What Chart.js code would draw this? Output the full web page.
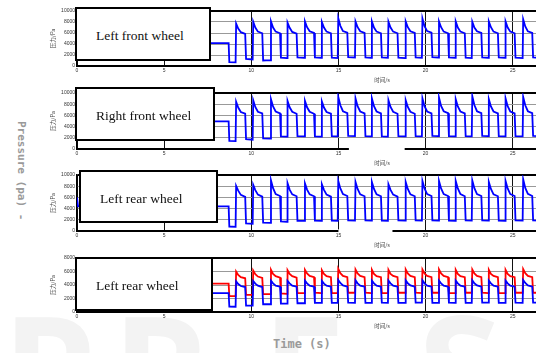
<!DOCTYPE html>
<html lang="en">
<head>
<meta charset="UTF-8" />
<title>Wheel cylinder pressure</title>
<script src="https://cdn.jsdelivr.net/npm/chart.js@4.4.0/dist/chart.umd.min.js"></script>
<style>
  html, body { margin: 0; padding: 0; background: #fff; }
  body { width: 536px; height: 353px; overflow: hidden; position: relative; }
  canvas { position: absolute; left: 47px; z-index: 1; }
  .wm { position: absolute; top: 292px; font-family: "Open Sans", sans-serif; font-weight: 700;
        font-size: 150px; line-height: 1; color: #f3f3f3; z-index: 0; }
  .box { position: absolute; box-sizing: border-box; border: 2px solid #000; background: #fff; z-index: 5;
         display: flex; align-items: center; padding: 4px 0 0 19px; font-family: "Liberation Serif", serif;
         font-size: 13.5px; color: #111; white-space: nowrap; }
  .ylab { position: absolute; left: 15px; top: 121px; writing-mode: vertical-rl; z-index: 2;
          font: bold 11px "DejaVu Sans Mono", monospace; color: #9a9a9a; }
  .xlab { position: absolute; left: 273px; top: 337px; z-index: 2;
          font: bold 12px "DejaVu Sans Mono", monospace; color: #9a9a9a; }
</style>
</head>
<body>
  <div class="wm" style="left:2px">P</div>
  <div class="wm" style="left:112px">R</div>
  <div class="wm" style="left:262px">E</div>
  <div class="wm" style="left:418px">S</div>

  <canvas id="c1" width="645" height="80" style="top:6px"></canvas>
  <canvas id="c2" width="645" height="81" style="top:88px"></canvas>
  <canvas id="c3" width="645" height="81" style="top:170px"></canvas>
  <canvas id="c4" width="645" height="79" style="top:253px"></canvas>

  <div class="box" style="left:75px; top:7px; width:136px; height:54px">Left front wheel</div>
  <div class="box" style="left:75px; top:87px; width:140px; height:54px">Right front wheel</div>
  <div class="box" style="left:79px; top:170px; width:139px; height:53px">Left rear wheel</div>
  <div class="box" style="left:75px; top:257px; width:138px; height:54px">Left rear wheel</div>

  <div class="ylab">Pressure (pa) -</div>
  <div class="xlab">Time (s)</div>

<script>
// sample times (s), shared by every trace
const timeS = [0, 0.06, 8.70, 8.74,
  9.10, 9.13, 9.25, 9.40, 9.65, 9.70,
  10.08, 10.11, 10.23, 10.38, 10.63, 10.68,
  11.10, 11.13, 11.25, 11.40, 11.65, 11.70,
  12.05, 12.08, 12.20, 12.35, 12.60, 12.65,
  13.05, 13.08, 13.20, 13.35, 13.60, 13.65,
  14.02, 14.05, 14.17, 14.32, 14.57, 14.62,
  14.96, 14.99, 15.11, 15.26, 15.51, 15.56,
  15.95, 15.98, 16.10, 16.25, 16.50, 16.55,
  16.89, 16.92, 17.04, 17.19, 17.44, 17.49,
  17.84, 17.87, 17.99, 18.14, 18.39, 18.44,
  18.83, 18.86, 18.98, 19.13, 19.38, 19.43,
  19.79, 19.82, 19.94, 20.09, 20.34, 20.39,
  20.74, 20.77, 20.89, 21.04, 21.29, 21.34,
  21.70, 21.73, 21.85, 22.00, 22.25, 22.30,
  22.65, 22.68, 22.80, 22.95, 23.20, 23.25,
  23.60, 23.63, 23.75, 23.90, 24.15, 24.20,
  24.56, 24.59, 24.71, 24.86, 25.11, 25.16,
  25.57, 25.60, 25.72, 25.87, 26.12, 26.17,
  26.53, 26.56, 26.68];

// pressure, Pa
const leftFront = [4150, 4150, 4150, 700,
  650, 7700, 6800, 6150, 5850, 1300,
  1200, 8050, 7000, 6250, 5950, 1000,
  1050, 8100, 7000, 6250, 5950, 1500,
  1450, 7900, 6950, 6200, 5900, 1550,
  1500, 8100, 7050, 6300, 6000, 1550,
  1500, 8000, 7000, 6250, 5950, 1500,
  1450, 8700, 7300, 6350, 6050, 1600,
  1550, 8100, 7050, 6300, 6000, 1550,
  1500, 8100, 7000, 6250, 5950, 1550,
  1500, 8050, 7000, 6250, 5950, 1500,
  1450, 8100, 7050, 6300, 6000, 1550,
  1500, 8650, 7250, 6350, 6050, 1600,
  1550, 8100, 7050, 6250, 5950, 1550,
  1500, 8100, 7000, 6250, 5950, 1500,
  1450, 8050, 7000, 6300, 6000, 1550,
  1500, 8100, 7050, 6250, 5950, 1550,
  1500, 8100, 7000, 6250, 5950, 1500,
  1450, 8500, 7200, 6300, 6000, 1550,
  1500, 8400, 7150];

const rightFront = [4950, 4950, 4950, 1450,
  1400, 8450, 7400, 6600, 6300, 1750,
  1650, 8700, 7500, 6650, 6350, 1900,
  1850, 8900, 7600, 6700, 6350, 2250,
  2200, 8600, 7450, 6650, 6300, 2300,
  2250, 8600, 7450, 6650, 6300, 2250,
  2200, 8500, 7400, 6600, 6300, 2300,
  2250, 9300, 7800, 6750, 6400, 2350,
  2300, 9050, 7650, 6700, 6350, 2300,
  2250, 9050, 7650, 6700, 6350, 2250,
  2200, 8700, 7500, 6650, 6300, 2300,
  2250, 8700, 7500, 6650, 6300, 2300,
  2250, 9050, 7650, 6700, 6350, 2350,
  2300, 9200, 7700, 6750, 6400, 2300,
  2250, 8900, 7600, 6700, 6350, 2300,
  2250, 9450, 7850, 6750, 6400, 2350,
  2300, 8900, 7600, 6700, 6350, 2300,
  2250, 9050, 7650, 6700, 6350, 2300,
  2250, 9300, 7800, 6750, 6400, 2350,
  2300, 9100, 7700];

const leftRear = [6000, 4400, 4400, 800,
  750, 8050, 7200, 6450, 6100, 1350,
  1300, 8250, 7300, 6500, 6150, 1500,
  1450, 9050, 7650, 6600, 6250, 1700,
  1650, 8550, 7400, 6550, 6200, 1800,
  1800, 8500, 7400, 6550, 6200, 1850,
  1800, 8350, 7350, 6500, 6150, 1850,
  1800, 8950, 7600, 6600, 6250, 1900,
  1850, 8750, 7500, 6550, 6200, 1900,
  1850, 8750, 7500, 6550, 6200, 1850,
  1800, 8350, 7350, 6500, 6150, 1900,
  1850, 8750, 7500, 6550, 6200, 1900,
  1850, 8950, 7600, 6600, 6250, 1900,
  1850, 8950, 7600, 6600, 6250, 1850,
  1800, 8950, 7600, 6600, 6200, 1900,
  1850, 9050, 7650, 6600, 6250, 1900,
  1850, 8750, 7500, 6550, 6200, 1850,
  1800, 8950, 7600, 6600, 6250, 1900,
  1850, 9250, 7700, 6650, 6250, 1900,
  1850, 9000, 7600];

// last panel: two traces
const leftRearRed = [4200, 4200, 4200, 2350,
  2350, 6000, 5500, 5150, 5000, 2550,
  2550, 6150, 5600, 5250, 5050, 2650,
  2650, 6250, 5650, 5300, 5100, 2750,
  2700, 6200, 5650, 5300, 5100, 2800,
  2800, 6250, 5700, 5350, 5150, 2850,
  2800, 6200, 5650, 5300, 5150, 2800,
  2800, 6400, 5750, 5350, 5150, 2850,
  2850, 6300, 5700, 5350, 5150, 2850,
  2800, 6250, 5650, 5300, 5150, 2800,
  2800, 6250, 5650, 5350, 5150, 2850,
  2850, 6300, 5700, 5350, 5150, 2850,
  2800, 6300, 5700, 5350, 5150, 2850,
  2850, 6300, 5700, 5350, 5150, 2800,
  2800, 6250, 5650, 5300, 5150, 2850,
  2850, 6300, 5700, 5350, 5150, 2850,
  2800, 6250, 5650, 5350, 5150, 2800,
  2800, 6250, 5650, 5300, 5150, 2850,
  2850, 6350, 5750, 5350, 5150, 2850,
  2850, 6300, 5700];

const leftRearBlue = [2800, 2800, 2800, 800,
  780, 4550, 4150, 3850, 3700, 950,
  950, 4600, 4200, 3900, 3700, 1150,
  1150, 4650, 4250, 3900, 3750, 1250,
  1250, 4600, 4250, 3900, 3750, 1300,
  1300, 4650, 4250, 3900, 3750, 1350,
  1350, 4600, 4200, 3900, 3750, 1350,
  1350, 4750, 4300, 3950, 3750, 1400,
  1350, 4700, 4250, 3900, 3750, 1350,
  1350, 4650, 4250, 3900, 3750, 1400,
  1350, 4650, 4250, 3900, 3750, 1350,
  1350, 4700, 4250, 3950, 3750, 1400,
  1400, 4700, 4250, 3900, 3750, 1350,
  1350, 4650, 4250, 3900, 3750, 1400,
  1350, 4650, 4250, 3900, 3750, 1350,
  1350, 4700, 4250, 3950, 3750, 1400,
  1400, 4650, 4250, 3900, 3750, 1350,
  1350, 4650, 4250, 3900, 3750, 1400,
  1350, 4750, 4300, 3950, 3750, 1400,
  1400, 4700, 4250];

// white break in the bottom axis line, as in the scan
const axisGap = {
  id: 'axisGap',
  afterDraw(chart, args, opts) {
    if (opts.from == null) return;
    const x = chart.scales.x, a = chart.chartArea, ctx = chart.ctx;
    const x0 = x.getPixelForValue(opts.from), x1 = x.getPixelForValue(opts.to);
    ctx.save();
    ctx.fillStyle = '#fff';
    ctx.fillRect(x0, a.bottom - 2, x1 - x0, 4);
    ctx.restore();
  }
};

function makePanel(id, traces, yMax, gap) {
  const datasets = traces.map(tr => ({
    data: timeS.map((t, i) => ({ x: t, y: tr.values[i] })),
    borderColor: tr.color,
    borderWidth: 1.8,
    pointRadius: 0,
    tension: 0
  }));
  return new Chart(document.getElementById(id), {
    type: 'line',
    data: { datasets },
    plugins: [axisGap],
    options: {
      responsive: false,
      animation: false,
      layout: { padding: { top: 4, right: 5, left: 0, bottom: 0 } },
      plugins: {
        legend: { display: false },
        tooltip: { enabled: false },
        axisGap: gap || {}
      },
      scales: {
        x: {
          type: 'linear', min: 0, max: 35,
          afterFit: s => { s.height = 20; },
          ticks: { stepSize: 5, padding: 2, color: '#333', maxRotation: 0, autoSkip: false,
                   font: { size: 5, family: 'Liberation Sans' }, callback: v => String(v) },
          grid: { color: '#111', lineWidth: 1, drawTicks: false },
          border: { color: '#000', width: 2 },
          title: { display: true, text: '时间/s', color: '#444',
                   font: { size: 5.5, family: 'Noto Sans CJK SC' }, padding: { top: 0, bottom: 3 } }
        },
        y: {
          min: 0, max: yMax,
          afterFit: s => { s.width = 30; },
          ticks: { stepSize: 2000, padding: 2, color: '#333',
                   font: { size: 5, family: 'Liberation Sans' }, callback: v => String(v) },
          grid: {
            color: c => (c.tick.value === yMax || c.tick.value === 0) ? '#000' : '#999',
            lineWidth: c => c.tick.value === yMax ? 2 : 1,
            drawTicks: false
          },
          border: { color: '#000', width: 1.5 },
          title: { display: true, text: '压力/Pa', color: '#444',
                   font: { size: 5.5, family: 'Noto Sans CJK SC' }, padding: { top: 3, bottom: 0 } }
        }
      }
    }
  });
}

makePanel('c1', [{ values: leftFront, color: '#0000ff' }], 10000);
makePanel('c2', [{ values: rightFront, color: '#0000ff' }], 10000, { from: 15.6, to: 18.8 });
makePanel('c3', [{ values: leftRear, color: '#0000ff' }], 10000, { from: 15.0, to: 18.1 });
makePanel('c4', [{ values: leftRearBlue, color: '#0000ff' }, { values: leftRearRed, color: '#ff0000' }], 8000);
</script>
</body>
</html>
